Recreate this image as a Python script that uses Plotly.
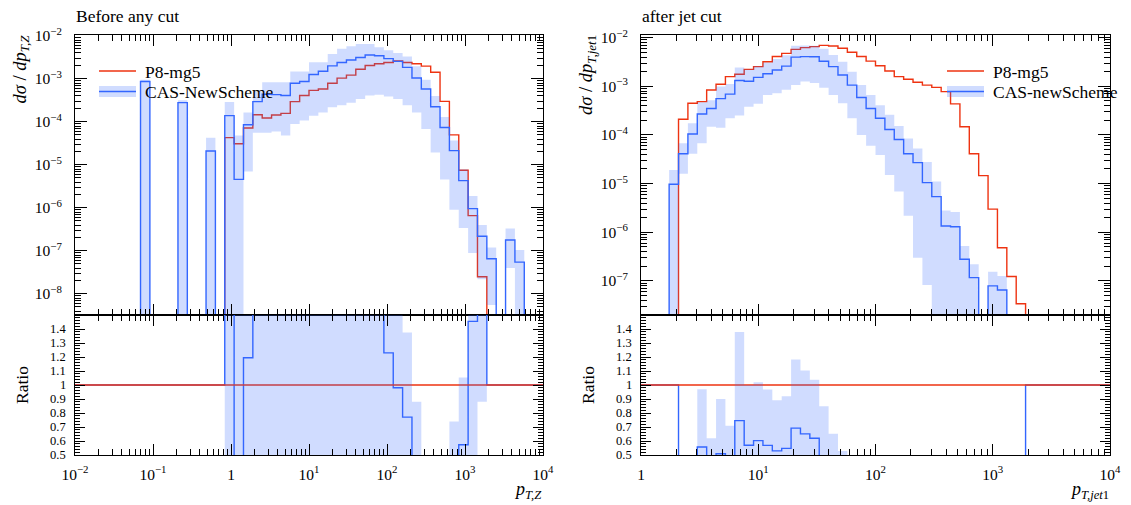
import numpy as np
import plotly.graph_objects as go

W, H = 1131, 505
FONT = "Liberation Serif"
RED = "#ee3311"
BLUE = "#3366ff"
BAND = "rgba(51,102,255,0.23)"

# ---------------- binning (log-spaced) ----------------
left_logmin, left_logmax, left_nbins = -2.0, 4.0, 50
right_logmin, right_logmax, right_nbins = 0.0, 4.0, 50

# ---------------- left panel: pT,Z (before any cut) ----------------
left_p8 = [0]*16 + [
    4.3e-5, 3.1e-5, 7.2e-5, 1.47e-4, 1.23e-4, 1.44e-4, 1.58e-4, 2.95e-4, 4.1e-4, 5.4e-4,
    5.8e-4, 7.9e-4, 1.04e-3, 1.22e-3, 1.68e-3, 2.05e-3, 2.24e-3, 2.4e-3, 2.6e-3, 2.4e-3,
    2.24e-3, 1.98e-3, 1.43e-3, 3.0e-4, 5.0e-5, 7.5e-6, 6.6e-7, 2.5e-8] + [0]*6

left_cas = [0]*7 + [8.7e-4] + [0]*3 + [2.8e-4] + [0]*2 + [2.1e-5, 0] + [
    1.4e-4, 4.6e-6, 8.6e-5, 2.95e-4, 4.4e-4, 4.3e-4, 4.1e-4, 7.9e-4, 8.7e-4, 1.26e-3,
    1.5e-3, 2.0e-3, 2.4e-3, 2.75e-3, 3.15e-3, 3.6e-3, 3.45e-3, 2.95e-3, 2.55e-3, 1.85e-3,
    1.05e-3, 5.8e-4, 2.25e-4, 7.4e-5, 2.15e-5, 4.3e-6, 9.6e-7, 2.2e-7, 6.6e-8, 0,
    1.8e-7, 5.5e-8, 0, 0]

left_cas_hi = [0]*7 + [9.6e-4] + [0]*3 + [3.2e-4] + [0]*2 + [4.3e-5, 0] + [
    2.9e-4, 4.8e-5, 1.66e-4, 5.1e-4, 8.3e-4, 8.3e-4, 8.3e-4, 1.48e-3, 1.48e-3, 2.45e-3,
    2.45e-3, 3.8e-3, 5.0e-3, 5.75e-3, 6.45e-3, 6.45e-3, 5.4e-3, 4.6e-3, 4.0e-3, 3.3e-3,
    1.97e-3, 9.6e-4, 4.0e-4, 1.3e-4, 3.7e-5, 7.9e-6, 1.9e-6, 4.0e-7, 1.2e-7, 0,
    3.3e-7, 1.05e-7, 0, 0]

left_cas_lo = [0]*18 + [
    7e-6, 5.6e-5, 5.6e-5, 6.0e-5, 4.8e-5, 8.9e-5, 1.07e-4, 1.38e-4, 1.66e-4, 2.2e-4,
    2.45e-4, 2.8e-4, 3.4e-4, 4.1e-4, 4.3e-4, 3.9e-4, 3.4e-4, 2.45e-4, 1.66e-4, 6.8e-5,
    1.95e-5, 4.6e-6, 9.1e-7, 3.4e-7, 8.9e-8, 2.2e-8, 5.5e-9, 0, 4e-8, 0, 0, 0]

# ---------------- right panel: pT,jet1 (after jet cut) ----------------
right_p8 = [0]*4 + [
    2.1e-4, 4.5e-4, 4.85e-4, 8.4e-4, 1.1e-3, 1.58e-3, 1.77e-3, 2.23e-3, 2.54e-3, 3.2e-3,
    4.1e-3, 4.75e-3, 5.75e-3, 6.25e-3, 6.55e-3, 6.95e-3, 6.75e-3, 6.05e-3, 5.0e-3, 4.1e-3,
    3.3e-3, 2.65e-3, 2.07e-3, 1.58e-3, 1.4e-3, 1.21e-3, 1.06e-3, 9.5e-4, 7.8e-4, 4.35e-4,
    1.48e-4, 4.1e-5, 1.46e-5, 3.0e-6, 4.8e-7, 1.23e-7, 3.4e-8] + [0]*9

right_cas = [0]*3 + [
    9.7e-6, 4.1e-5, 1.05e-4, 2.7e-4, 3.5e-4, 5.6e-4, 6.9e-4, 1.32e-3, 1.27e-3, 1.53e-3,
    1.82e-3, 2.17e-3, 2.6e-3, 3.98e-3, 4.07e-3, 4.06e-3, 3.27e-3, 2.54e-3, 1.71e-3, 1.06e-3,
    5.9e-4, 3.5e-4, 2.2e-4, 1.3e-4, 8.1e-5, 4.1e-5, 2.7e-5, 1.05e-5, 5.4e-6, 1.35e-6,
    1.3e-6, 2.8e-7, 1.17e-7, 0, 7.9e-8, 6.5e-8] + [0]*11

right_cas_hi = [0]*3 + [
    1.9e-5, 6.8e-5, 1.74e-4, 4.7e-4, 5.2e-4, 9.9e-4, 1.12e-3, 2.44e-3, 2.23e-3, 2.59e-3,
    3.1e-3, 3.65e-3, 4.37e-3, 6.8e-3, 6.9e-3, 6.8e-3, 5.9e-3, 4.4e-3, 3.2e-3, 2.0e-3,
    1.06e-3, 6.6e-4, 4.1e-4, 2.6e-4, 1.53e-4, 8.5e-5, 5.3e-5, 2.8e-5, 1.1e-5, 2.8e-6,
    2.6e-6, 5.2e-7, 2.2e-7, 0, 1.55e-7, 1.27e-7] + [0]*11

right_cas_lo = [0]*4 + [
    1.6e-5, 4.1e-5, 6.8e-5, 1.48e-4, 1.41e-4, 2.2e-4, 2.5e-4, 3.8e-4, 4.4e-4, 6.6e-4,
    7.2e-4, 8.5e-4, 1.07e-3, 1.26e-3, 1.17e-3, 9.3e-4, 6.6e-4, 4.5e-4, 2.2e-4, 1.0e-4,
    6.0e-5, 3.9e-5, 1.5e-5, 6.9e-6, 2.2e-6, 3.0e-7, 8.3e-8] + [0]*19

# ---------------- ticks & labels ----------------
left_xticks = [1e-2, 1e-1, 1, 1e1, 1e2, 1e3, 1e4]
left_xticktext = ["10<sup>−2</sup>", "10<sup>−1</sup>", "1", "10<sup>1</sup>",
                  "10<sup>2</sup>", "10<sup>3</sup>", "10<sup>4</sup>"]
right_xticks = [1, 1e1, 1e2, 1e3, 1e4]
right_xticktext = ["1", "10<sup>1</sup>", "10<sup>2</sup>", "10<sup>3</sup>", "10<sup>4</sup>"]
left_yticks = [1e-8, 1e-7, 1e-6, 1e-5, 1e-4, 1e-3, 1e-2]
left_yticktext = ["10<sup>−8</sup>", "10<sup>−7</sup>", "10<sup>−6</sup>", "10<sup>−5</sup>",
                  "10<sup>−4</sup>", "10<sup>−3</sup>", "10<sup>−2</sup>"]
right_yticks = [1e-7, 1e-6, 1e-5, 1e-4, 1e-3, 1e-2]
right_yticktext = ["10<sup>−7</sup>", "10<sup>−6</sup>", "10<sup>−5</sup>",
                   "10<sup>−4</sup>", "10<sup>−3</sup>", "10<sup>−2</sup>"]
ratio_ticks = [0.5, 0.6, 0.7, 0.8, 0.9, 1.0, 1.1, 1.2, 1.3, 1.4]
ratio_ticktext = ["0.5", "0.6", "0.7", "0.8", "0.9", "1", "1.1", "1.2", "1.3", "1.4"]

left_yrange = [-8.49, -1.98]
right_yrange = [-7.70, -1.945]
ratio_range = [0.5, 1.5]

titles = ["Before any cut", "after jet cut"]
legend_left = ["P8-mg5", "CAS-NewScheme"]
legend_right = ["P8-mg5", "CAS-newScheme"]


def fx(px):
    return px / W


def fy(py):
    return 1 - py / H


def steps(edges, vals, floor):
    v = [x if x > 0 else floor for x in vals]
    xs = [edges[0]] + list(edges[:-1]) + [edges[-1], edges[-1]]
    ys = [floor] + v + [v[-1], floor]
    return xs, ys


def ratio_steps(edges, vals):
    xs = list(edges[:-1]) + [edges[-1]]
    ys = list(vals) + [vals[-1]]
    return xs, ys


def minor_log(e0, e1):
    return [m * 10.0 ** e for e in range(e0, e1) for m in range(2, 10)]


fig = go.Figure()
FLOOR = 1e-30


def add_panel(edges, p8, cas, hi, lo, xm, ym, xr, yr):
    # main panel
    x, y = steps(edges, p8, FLOOR)
    fig.add_trace(go.Scatter(x=x, y=y, mode="lines", line=dict(color=RED, width=1.4, shape="hv"),
                             xaxis=xm, yaxis=ym, showlegend=False, hoverinfo="skip"))
    x, y = steps(edges, lo, FLOOR)
    fig.add_trace(go.Scatter(x=x, y=y, mode="lines", line=dict(width=0, shape="hv"),
                             xaxis=xm, yaxis=ym, showlegend=False, hoverinfo="skip"))
    x, y = steps(edges, hi, FLOOR)
    fig.add_trace(go.Scatter(x=x, y=y, mode="lines", line=dict(width=0, shape="hv"),
                             fill="tonexty", fillcolor=BAND,
                             xaxis=xm, yaxis=ym, showlegend=False, hoverinfo="skip"))
    x, y = steps(edges, cas, FLOOR)
    fig.add_trace(go.Scatter(x=x, y=y, mode="lines", line=dict(color=BLUE, width=1.4, shape="hv"),
                             xaxis=xm, yaxis=ym, showlegend=False, hoverinfo="skip"))
    # ratio panel
    p8a = np.array(p8, float)
    casa = np.array(cas, float)
    hia = np.array(hi, float)
    loa = np.array(lo, float)
    has = p8a > 0
    safe = np.where(has, p8a, 1.0)
    r_cas = np.where(has, casa / safe, 1.0)
    r_hi = np.where(has, hia / safe, -1.0)
    r_lo = np.where(has, loa / safe, -1.0)
    x, y = ratio_steps(edges, r_cas)
    fig.add_trace(go.Scatter(x=x, y=y, mode="lines", line=dict(color=BLUE, width=1.4, shape="hv"),
                             xaxis=xr, yaxis=yr, showlegend=False, hoverinfo="skip"))
    fig.add_trace(go.Scatter(x=[edges[0], edges[-1]], y=[1, 1], mode="lines",
                             line=dict(color=RED, width=1.6),
                             xaxis=xr, yaxis=yr, showlegend=False, hoverinfo="skip"))
    x, y = ratio_steps(edges, r_lo)
    fig.add_trace(go.Scatter(x=x, y=y, mode="lines", line=dict(width=0, shape="hv"),
                             xaxis=xr, yaxis=yr, showlegend=False, hoverinfo="skip"))
    x, y = ratio_steps(edges, r_hi)
    fig.add_trace(go.Scatter(x=x, y=y, mode="lines", line=dict(width=0, shape="hv"),
                             fill="tonexty", fillcolor=BAND,
                             xaxis=xr, yaxis=yr, showlegend=False, hoverinfo="skip"))


left_edges = np.logspace(left_logmin, left_logmax, left_nbins + 1)
right_edges = np.logspace(right_logmin, right_logmax, right_nbins + 1)

add_panel(left_edges, left_p8, left_cas, left_cas_hi, left_cas_lo, "x", "y", "x2", "y2")
add_panel(right_edges, right_p8, right_cas, right_cas_hi, right_cas_lo, "x3", "y3", "x4", "y4")

tickfont = dict(family=FONT, size=15.5, color="black")
common = dict(showline=True, linecolor="black", linewidth=1, mirror="allticks",
              ticks="inside", tickcolor="black", tickwidth=1, showgrid=False,
              zeroline=False, tickfont=tickfont, tickmode="array", automargin=False)


def xaxis(domain, rng, tv, tt, labels, anchor, e0, e1):
    d = dict(common)
    d.update(type="log", range=rng, domain=domain, tickvals=tv, ticktext=tt,
             showticklabels=labels, ticklen=11, anchor=anchor, ticklabelstandoff=5,
             minor=dict(ticks="inside", ticklen=6, tickwidth=1, tickcolor="black",
                        tickvals=minor_log(e0, e1), showgrid=False))
    return d


def yaxis_log(domain, rng, tv, tt, anchor, e0, e1):
    d = dict(common)
    d.update(type="log", range=rng, domain=domain, tickvals=tv, ticktext=tt,
             showticklabels=True, ticklen=12, anchor=anchor, ticklabelstandoff=9,
             minor=dict(ticks="inside", ticklen=6, tickwidth=1, tickcolor="black",
                        tickvals=minor_log(e0, e1), showgrid=False))
    return d


def yaxis_ratio(domain, anchor):
    d = dict(common)
    d.update(type="linear", range=ratio_range, domain=domain, tickvals=ratio_ticks,
             showticklabels=False, ticklen=10, anchor=anchor,
             minor=dict(ticks="inside", ticklen=5, tickwidth=1, tickcolor="black",
                        tickvals=[round(0.5 + 0.02 * i, 2) for i in range(51)], showgrid=False))
    return d


LX = [fx(75), fx(543)]
RX = [fx(641), fx(1110)]
MY = [fy(315), fy(35)]
RY = [fy(455), fy(315)]

fig.update_layout(
    template="none",
    width=W, height=H, margin=dict(l=0, r=0, t=0, b=0, pad=0),
    paper_bgcolor="white", plot_bgcolor="white", showlegend=False,
    font=dict(family=FONT, color="black"),
    xaxis=xaxis(LX, [left_logmin, left_logmax], left_xticks, left_xticktext, False, "y", -2, 4),
    xaxis2=xaxis(LX, [left_logmin, left_logmax], left_xticks, left_xticktext, True, "y2", -2, 4),
    xaxis3=xaxis(RX, [right_logmin, right_logmax], right_xticks, right_xticktext, False, "y3", 0, 4),
    xaxis4=xaxis(RX, [right_logmin, right_logmax], right_xticks, right_xticktext, True, "y4", 0, 4),
    yaxis=yaxis_log(MY, left_yrange, left_yticks, left_yticktext, "x", -9, -1),
    yaxis2=yaxis_ratio(RY, "x2"),
    yaxis3=yaxis_log(MY, right_yrange, right_yticks, right_yticktext, "x3", -8, -1),
    yaxis4=yaxis_ratio(RY, "x4"),
)

ann = []
shapes = []
# ratio tick labels
for yref, xl in (("y2", 75), ("y4", 641)):
    for v, t in zip(ratio_ticks, ratio_ticktext):
        ann.append(dict(x=fx(xl), xref="paper", y=v, yref=yref, text=t, showarrow=False,
                        xanchor="right", yanchor="middle", borderpad=0,
                        xshift=-8, font=dict(family=FONT, size=12.5, color="black")))

# titles
for t, xl in zip(titles, (75, 641)):
    ann.append(dict(x=fx(xl), y=fy(16), xref="paper", yref="paper", text=t, showarrow=False,
                    xanchor="left", yanchor="middle", borderpad=0,
                    font=dict(family=FONT, size=17.5, color="black")))

# axis titles
ytitles = ["<i>dσ</i> / <i>dp</i><sub><i>T,Z</i></sub>",
           "<i>dσ</i> / <i>dp</i><sub><i>T,jet</i>1</sub>"]
for t, xc in zip(ytitles, (21, 587)):
    ann.append(dict(x=fx(xc), y=fy(34), xref="paper", yref="paper", text=t, showarrow=False,
                    textangle=-90, xanchor="center", yanchor="top", borderpad=0,
                    font=dict(family=FONT, size=18.5, color="black")))
for xc in (22, 588):
    ann.append(dict(x=fx(xc), y=fy(385), xref="paper", yref="paper", text="Ratio", showarrow=False,
                    textangle=-90, xanchor="center", yanchor="middle", borderpad=0,
                    font=dict(family=FONT, size=17.5, color="black")))
xtitles = ["<i>p</i><sub><i>T,Z</i></sub>", "<i>p</i><sub><i>T,jet</i>1</sub>"]
for t, xr in zip(xtitles, (543, 1110)):
    ann.append(dict(x=fx(xr), y=fy(490), xref="paper", yref="paper", text=t, showarrow=False,
                    xanchor="right", yanchor="middle", borderpad=0,
                    font=dict(family=FONT, size=18, color="black")))

# legends
for labels, x0 in ((legend_left, 99), (legend_right, 947)):
    x1 = x0 + 37
    shapes.append(dict(type="line", xref="paper", yref="paper", x0=fx(x0), x1=fx(x1),
                       y0=fy(71), y1=fy(71), line=dict(color=RED, width=1.4), layer="above"))
    shapes.append(dict(type="rect", xref="paper", yref="paper", x0=fx(x0), x1=fx(x1),
                       y0=fy(97), y1=fy(86), fillcolor=BAND, line=dict(width=0), layer="above"))
    shapes.append(dict(type="line", xref="paper", yref="paper", x0=fx(x0), x1=fx(x1),
                       y0=fy(91.5), y1=fy(91.5), line=dict(color=BLUE, width=1.4), layer="above"))
    ann.append(dict(x=fx(x1 + 8), y=fy(72), xref="paper", yref="paper", text=labels[0],
                    showarrow=False, xanchor="left", yanchor="middle", borderpad=0,
                    font=dict(family=FONT, size=17.5, color="black")))
    ann.append(dict(x=fx(x1 + 8), y=fy(92), xref="paper", yref="paper", text=labels[1],
                    showarrow=False, xanchor="left", yanchor="middle", borderpad=0,
                    font=dict(family=FONT, size=17.5, color="black")))

fig.update_layout(annotations=ann, shapes=shapes)
fig.write_html("out.html")
